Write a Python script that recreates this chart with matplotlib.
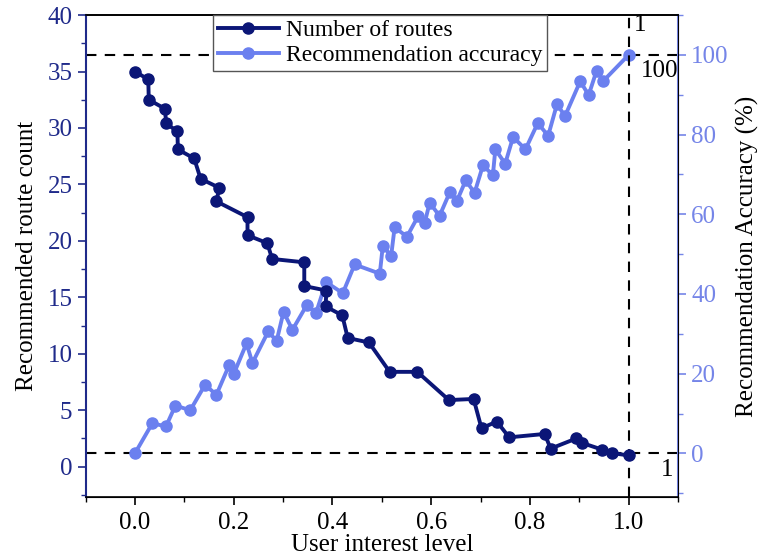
import matplotlib
matplotlib.use("Agg")
import matplotlib.pyplot as plt
from matplotlib.ticker import MultipleLocator

plt.rcParams['font.family'] = ['Liberation Serif', 'DejaVu Serif']

# Number of routes series
route_x = [0.000, 0.027, 0.028, 0.061, 0.063, 0.086, 0.087, 0.120, 0.133, 0.171,
           0.165, 0.228, 0.228, 0.268, 0.278, 0.343, 0.343, 0.388, 0.386, 0.420,
           0.431, 0.474, 0.516, 0.572, 0.636, 0.686, 0.702, 0.733, 0.758, 0.830,
           0.842, 0.894, 0.906, 0.947, 0.967, 1.000]
route_y = [35.0, 34.3, 32.5, 31.7, 30.4, 29.7, 28.1, 27.3, 25.5, 24.7,
           23.5, 22.1, 20.5, 19.8, 18.4, 18.1, 16.0, 15.6, 14.2, 13.4,
           11.4, 11.0, 8.4, 8.4, 5.9, 6.0, 3.4, 4.0, 2.6, 2.9,
           1.6, 2.5, 2.1, 1.5, 1.2, 1.0]

# Recommendation accuracy series (%)
acc_x = [0.000, 0.035, 0.063, 0.082, 0.112, 0.142, 0.165, 0.191, 0.200, 0.226,
         0.238, 0.270, 0.287, 0.301, 0.319, 0.348, 0.367, 0.387, 0.421, 0.445,
         0.496, 0.502, 0.519, 0.526, 0.551, 0.574, 0.587, 0.597, 0.617, 0.638,
         0.652, 0.670, 0.688, 0.705, 0.725, 0.730, 0.750, 0.766, 0.791, 0.816,
         0.837, 0.855, 0.871, 0.902, 0.919, 0.935, 0.949, 1.000]
acc_y = [0.0, 7.5, 6.8, 12.0, 10.8, 17.2, 14.7, 22.2, 19.9, 27.6,
         22.7, 30.6, 28.2, 35.5, 31.0, 37.2, 35.3, 43.0, 40.2, 47.4,
         45.1, 52.0, 49.6, 56.7, 54.4, 59.6, 57.9, 62.9, 59.6, 65.6,
         63.3, 68.5, 65.4, 72.3, 69.8, 76.3, 72.7, 79.4, 76.3, 82.9,
         79.7, 87.7, 84.6, 93.4, 89.9, 96.0, 93.5, 100.0]

x_ticks = [0.0, 0.2, 0.4, 0.6, 0.8, 1.0]
left_ticks = [0, 5, 10, 15, 20, 25, 30, 35, 40]
right_ticks = [0, 20, 40, 60, 80, 100]

dark = '#0b1677'
light = '#6b80ef'
left_axis_col = '#1f2a8a'
right_axis_col = '#7585e8'
FS = 18

fig = plt.figure(figsize=(7.6, 5.58), dpi=100)
ax = fig.add_axes([0.1126, 0.109, 0.7795, 0.864])
ax2 = ax.twinx()

l1, = ax.plot(route_x, route_y, '-o', color=dark, lw=2.8, ms=8, label='Number of routes', zorder=4)
l2, = ax2.plot(acc_x, acc_y, '-o', color=light, lw=2.8, ms=8, label='Recommendation accuracy', zorder=3)

ax.set_xlim(-0.1, 1.1)
ax.set_ylim(-2.7, 40)
ax2.set_ylim(-11, 110)

# reference dashed lines
ax2.axhline(100, color='black', ls=(0, (5, 4)), lw=1.5, zorder=1)
ax2.axhline(0, color='black', ls=(0, (5, 4)), lw=1.5, zorder=1)
ax.axvline(1.0, color='black', ls=(0, (5, 4)), lw=1.5, zorder=1)

ax2.text(1.01, 107.5, '1', fontsize=FS, ha='left', va='center')
ax2.text(1.062, 96, '100', fontsize=FS, ha='center', va='center')
ax2.text(1.077, -4.3, '1', fontsize=FS, ha='center', va='center')

ax.set_xticks(x_ticks)
ax.set_xticklabels([f'{v:.1f}' for v in x_ticks])
ax.xaxis.set_minor_locator(MultipleLocator(0.1))
ax.set_yticks(left_ticks)
ax.yaxis.set_minor_locator(MultipleLocator(2.5))
ax2.set_yticks(right_ticks)
ax2.yaxis.set_minor_locator(MultipleLocator(10))

ax.tick_params(axis='both', which='both', direction='out', labelsize=FS)
ax.tick_params(axis='x', which='major', length=6, width=1.2, colors='black', pad=5)
ax.tick_params(axis='x', which='minor', length=3.5, width=1.0)
ax.tick_params(axis='y', which='major', length=6, width=1.2, colors=left_axis_col, labelcolor=left_axis_col)
ax.tick_params(axis='y', which='minor', length=3.5, width=1.0, colors=left_axis_col)
ax.tick_params(top=False, which='both')
ax2.tick_params(axis='y', which='major', direction='out', length=6, width=1.2, colors=right_axis_col, labelcolor=right_axis_col, labelsize=FS)
ax2.tick_params(axis='y', which='minor', direction='out', length=3.5, width=1.0, colors=right_axis_col)

for s in ['top', 'bottom']:
    ax.spines[s].set_color('black')
    ax.spines[s].set_linewidth(1.2)
ax.spines['left'].set_color(left_axis_col)
ax.spines['left'].set_linewidth(1.5)
ax2.spines['left'].set_visible(False)
ax2.spines['right'].set_color(right_axis_col)
ax2.spines['right'].set_linewidth(1.5)
ax2.spines['top'].set_color('black')
ax2.spines['top'].set_linewidth(1.2)

ax.set_xlabel('User interest level', fontsize=FS, labelpad=0)
ax.set_ylabel('Recommended route count', fontsize=FS, labelpad=7)
ax2.set_ylabel('Recommendation Accuracy (%)', fontsize=FS, labelpad=5)

leg = ax.legend(handles=[l1, l2], loc='upper left', bbox_to_anchor=(0.215, 1.0),
                fontsize=17, frameon=True, fancybox=False, edgecolor='#555555',
                framealpha=1, borderaxespad=0, handlelength=2.6, handletextpad=0.3,
                borderpad=0.2, labelspacing=0.15)
leg.get_frame().set_linewidth(1.0)
ax.set_zorder(ax2.get_zorder() + 1)
ax.patch.set_visible(False)

fig.savefig('out.png', dpi=100)
